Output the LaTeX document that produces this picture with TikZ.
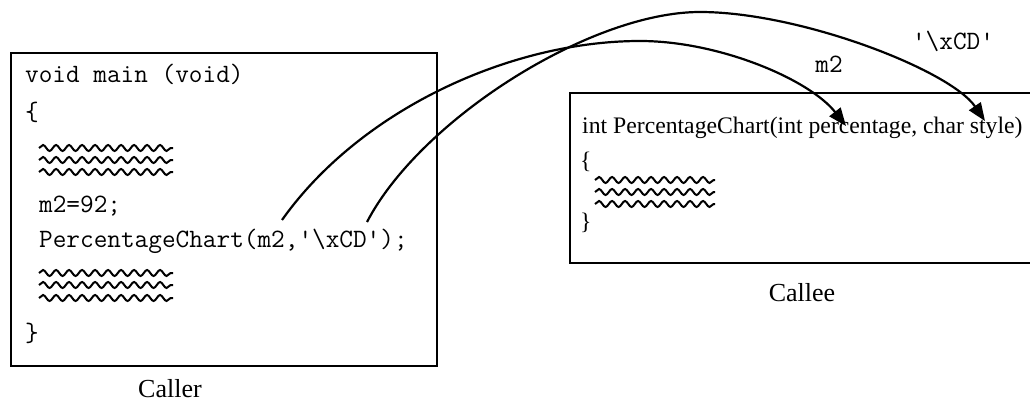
\documentclass[tikz,border=0pt]{standalone}
\usepackage{fontspec}
\setmainfont{Liberation Serif}
\usetikzlibrary{decorations.pathmorphing,arrows.meta}
\begin{document}
\begin{tikzpicture}[x=1pt,y=-1pt,
  box/.style={draw,line width=1.8pt,inner sep=0pt,outer sep=0pt},
  code/.style={font=\fontsize{26.5}{30}\selectfont\ttfamily,inner sep=0pt,anchor=base west},
  scode/.style={font=\fontsize{23.7}{28}\selectfont,inner sep=0pt,anchor=base west},
  lbl/.style={font=\fontsize{26}{30}\selectfont,inner sep=0pt,anchor=base},
  tlbl/.style={font=\fontsize{26.5}{30}\selectfont\ttfamily,inner sep=0pt,anchor=base},
  squig/.style={line width=2pt,decorate,decoration={snake,segment length=13pt,amplitude=3pt}},
  pass/.style={line width=2.2pt,-{Triangle[length=18pt,width=14pt]}}]
\useasboundingbox (0,0) rectangle (1030,401);
% boxes
\node[box,minimum width=426pt,minimum height=313pt] (caller) at (224,209.5) {};
\node[box,minimum width=475pt,minimum height=170pt] (callee) at (807.5,178) {};
% caller code
\node[code] (l1) at (25,83) {void main (void)};
\node[code] (l2) at (25,120.6) {\{};
\node[code] (l3) at (39,212) {m2=92;};
\node[code] (l4) at (39,247) {PercentageChart(m2,\textquotesingle\textbackslash xCD\textquotesingle);};
\node[code] (l5) at (25,341.6) {\}};
\draw[squig] (39,148) -- (173,148);
\draw[squig] (39,160) -- (173,160);
\draw[squig] (39,172) -- (173,172);
\draw[squig] (39,273) -- (173,273);
\draw[squig] (39,285) -- (173,285);
\draw[squig] (39,298) -- (173,298);
\node[lbl] (callerlbl) at (170,397) {Caller};
% callee code
\node[scode] (c1) at (582,133) {int PercentageChart(int percentage, char style)};
\node[scode] (c2) at (580,168) {\{};
\node[scode] (c3) at (580,229) {\}};
\draw[squig] (595,180) -- (715,180);
\draw[squig] (595,192) -- (715,192);
\draw[squig] (595,204) -- (715,204);
\node[lbl] (calleelbl) at (802,301) {Callee};
% labels
\node[tlbl] (m2lbl) at (829,73) {m2};
\node[tlbl] (cdlbl) at (953,50) {\textquotesingle\textbackslash xCD\textquotesingle};
% connectors
\coordinate (m2src) at (282,220);
\coordinate (m2top) at (640,41);
\coordinate (m2dst) at (846,126);
\coordinate (cdsrc) at (367,222);
\coordinate (cdtop) at (700,12);
\coordinate (cddst) at (985,121);
\draw[pass] (m2src) .. controls (360,110) and (510,41) .. (m2top)
  .. controls (720,41) and (810,80) .. (m2dst);
\draw[pass] (cdsrc) .. controls (420,120) and (590,12) .. (cdtop)
  .. controls (800,12) and (950,70) .. (cddst);
\end{tikzpicture}
\end{document}
